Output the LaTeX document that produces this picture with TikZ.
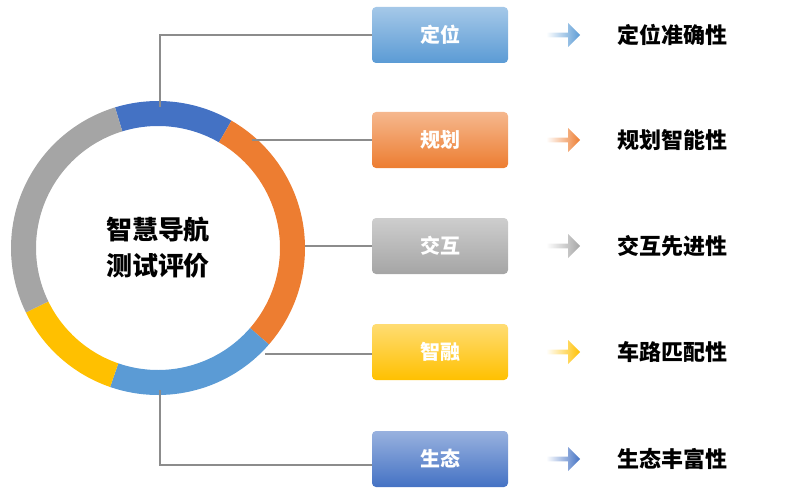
\documentclass[tikz,border=0pt]{standalone}
\usepackage{fontspec}
\setmainfont{Noto Sans CJK SC}
\usetikzlibrary{shapes.arrows,positioning}
\definecolor{ringblue}{HTML}{4472C4}
\definecolor{ringorange}{HTML}{ED7D31}
\definecolor{ringgray}{HTML}{A5A5A5}
\definecolor{ringyellow}{HTML}{FFC000}
\definecolor{ringsky}{HTML}{5B9BD5}
\definecolor{linkgray}{HTML}{8C8C8C}

\begin{document}
\begin{tikzpicture}[
    x=1pt,y=-1pt,
    tagbox/.style={rounded corners=4pt,minimum width=136pt,minimum height=56pt,text=white,font=\fontsize{20}{24}\selectfont\bfseries,draw=none},
    goal/.style={font=\fontsize{22}{26}\selectfont\bfseries,anchor=west},
    fatarrow/.style={single arrow,minimum width=24pt,single arrow head extend=5pt,minimum height=34pt,inner sep=1pt,left color=white,draw=none},
    link/.style={draw=linkgray,line width=1.2pt}
]
\useasboundingbox (0,0) rectangle (807,495);

% ring
\coordinate (hub) at (158,248);
\foreach \a/\b/\c in {-107/-60/ringblue,-60/41/ringorange,41/109/ringsky,109/154/ringyellow,154/253/ringgray}
  \fill[\c] ([shift={(\a:147)}]hub) arc[start angle=\a,end angle=\b,radius=147]
    -- ([shift={(\b:122)}]hub) arc[start angle=\b,end angle=\a,radius=122] -- cycle;
\node[font=\fontsize{26}{36}\selectfont\bfseries,align=center] (title) at (hub) {智慧导航\\测试评价};

% boxes
\node[tagbox,top color=ringsky!55,bottom color=ringsky] (dw) at (440,35) {定位};
\node[tagbox,top color=ringorange!55,bottom color=ringorange] (gh) at (440,140) {规划};
\node[tagbox,top color=ringgray!55,bottom color=ringgray] (jh) at (440,246) {交互};
\node[tagbox,top color=ringyellow!55,bottom color=ringyellow] (zr) at (440,352) {智融};
\node[tagbox,top color=ringblue!55,bottom color=ringblue] (st) at (440,459) {生态};

% arrows
\node[fatarrow,right color=ringsky] (a1) at (562,35) {};
\node[fatarrow,right color=ringorange] (a2) at (562,140) {};
\node[fatarrow,right color=ringgray] (a3) at (562,246) {};
\node[fatarrow,right color=ringyellow] (a4) at (562,352) {};
\node[fatarrow,right color=ringblue] (a5) at (562,459) {};

% results
\node[goal] (g1) at (614,35) {定位准确性};
\node[goal] (g2) at (614,140) {规划智能性};
\node[goal] (g3) at (614,246) {交互先进性};
\node[goal] (g4) at (614,352) {车路匹配性};
\node[goal] (g5) at (614,459) {生态丰富性};

% links
\coordinate (r1) at (160,107);
\coordinate (r2) at (252,140);
\coordinate (r3) at (305,246);
\coordinate (r4) at (265,354);
\coordinate (r5) at (160,390);
\coordinate (c5) at (160,465);
\draw[link] (dw.west) -- (160,35) -- (r1);
\draw[link] (gh.west) -- (r2);
\draw[link] (jh.west) -- (r3);
\draw[link] (zr.west |- r4) -- (r4);
\draw[link] (st.west |- c5) -- (c5) -- (r5);
\end{tikzpicture}
\end{document}
